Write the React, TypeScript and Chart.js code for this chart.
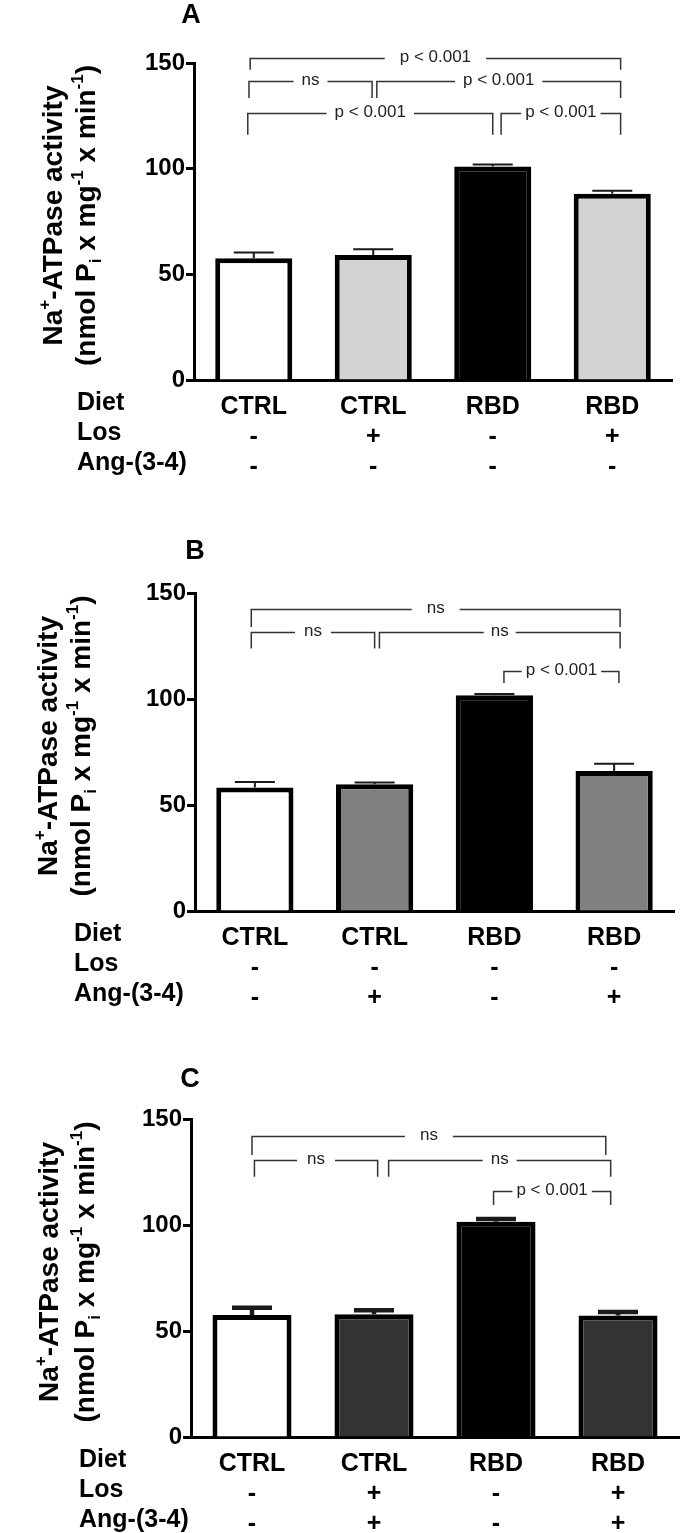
import React, { useEffect, useRef } from "react";
import { Chart, registerables } from "chart.js";

Chart.register(...registerables);

// ---------- data ----------
const diet = ["CTRL", "CTRL", "RBD", "RBD"];
const losA = ["-", "+", "-", "+"];
const angA = ["-", "-", "-", "-"];
const losB = ["-", "-", "-", "-"];
const angB = ["-", "+", "-", "+"];
const losC = ["-", "+", "-", "+"];
const angC = ["-", "+", "-", "+"];
const rowHeaders = ["Diet", "Los", "Ang-(3-4)"];

const meanA = [57.6, 59.2, 101.0, 88.1];
const semA = [2.7, 2.7, 1.0, 1.4];
const meanB = [58.2, 59.8, 101.8, 66.0];
const semB = [2.7, 0.8, 0.6, 3.5];
const meanC = [57.5, 57.9, 101.5, 57.3];
const semC = [3.5, 1.9, 1.3, 1.7];

const fillA = ["#ffffff", "#d3d3d3", "#000000", "#d3d3d3"];
const fillB = ["#ffffff", "#808080", "#000000", "#808080"];
const fillC = ["#ffffff", "#333333", "#000000", "#333333"];

const yMin = 0;
const yMax = 150;
const yStep = 50;

// significance brackets: category positions (from/to), bracket level and drop level (y units)
type Bracket = { from: number; to: number; y: number; drop: number; label: string; gap: number };
const bracketsA: Bracket[] = [
  { from: -0.03, to: 3.07, y: 152.4, drop: 146.8, label: "p < 0.001", gap: 15 },
  { from: -0.04, to: 0.99, y: 141.6, drop: 133.4, label: "ns", gap: 8 },
  { from: 1.03, to: 3.07, y: 141.6, drop: 133.4, label: "p < 0.001", gap: 8 },
  { from: -0.05, to: 2.0, y: 126.4, drop: 116.0, label: "p < 0.001", gap: 8 },
  { from: 2.07, to: 3.07, y: 126.4, drop: 116.0, label: "p < 0.001", gap: 4 },
];
const bracketsB: Bracket[] = [
  { from: -0.03, to: 3.05, y: 142.6, drop: 134.0, label: "ns", gap: 15 },
  { from: -0.03, to: 1.0, y: 131.6, drop: 123.8, label: "ns", gap: 9 },
  { from: 1.04, to: 3.05, y: 131.6, drop: 123.8, label: "ns", gap: 7 },
  { from: 2.08, to: 3.04, y: 113.2, drop: 107.5, label: "p < 0.001", gap: 4 },
];
const bracketsC: Bracket[] = [
  { from: 0.0, to: 2.9, y: 142.0, drop: 133.0, label: "ns", gap: 15 },
  { from: 0.02, to: 1.03, y: 130.6, drop: 122.8, label: "ns", gap: 10 },
  { from: 1.12, to: 2.94, y: 130.6, drop: 122.8, label: "ns", gap: 8 },
  { from: 1.98, to: 2.94, y: 116.2, drop: 109.4, label: "p < 0.001", gap: 4 },
];

const titleLine1 = [{ t: "Na" }, { t: "+", sup: true }, { t: "-ATPase activity" }];
const titleLine2 = [
  { t: "(nmol P" },
  { t: "i", sub: true },
  { t: " x mg" },
  { t: "-1", sup: true },
  { t: " x min" },
  { t: "-1", sup: true },
  { t: ")" },
];

// ---------- drawing ----------
const FONT = '"Liberation Sans", Arial, Helvetica, sans-serif';
const W = 700;

type Seg = { t: string; sup?: boolean; sub?: boolean };

function drawRich(ctx: CanvasRenderingContext2D, segs: Seg[], cx: number, cy: number, size: number) {
  const fontFor = (s: Seg) => `bold ${s.sup || s.sub ? Math.round(size * 0.62) : size}px ${FONT}`;
  let total = 0;
  segs.forEach((s) => {
    ctx.font = fontFor(s);
    total += ctx.measureText(s.t).width;
  });
  ctx.save();
  ctx.translate(cx, cy);
  ctx.rotate(-Math.PI / 2);
  ctx.textAlign = "left";
  ctx.textBaseline = "alphabetic";
  ctx.fillStyle = "#000";
  let x = -total / 2;
  const base = size * 0.36;
  segs.forEach((s) => {
    ctx.font = fontFor(s);
    const dy = s.sup ? -size * 0.44 : s.sub ? size * 0.2 : 0;
    ctx.fillText(s.t, x, base + dy);
    x += ctx.measureText(s.t).width;
  });
  ctx.restore();
}

type PanelProps = {
  top: number;
  height: number;
  letter: string;
  letterX: number;
  letterY: number;
  area: { left: number; right: number; top: number; bottom: number };
  los: string[];
  ang: string[];
  means: number[];
  sems: number[];
  fills: string[];
  brackets: Bracket[];
  headerX: number;
  titleX: [number, number];
  errWidth: number;
  barPct: number;
};

function Panel(p: PanelProps) {
  const ref = useRef<HTMLCanvasElement | null>(null);
  useEffect(() => {
    if (!ref.current) return;
    const labels = diet.map((d, i) => [d, p.los[i], p.ang[i]]);
    const tickPad = 4;
    const lineH = 30;
    const overlay = {
      id: "overlay" + p.letter,
      afterDraw(chart: any) {
        const ctx: CanvasRenderingContext2D = chart.ctx;
        const xs = chart.scales.x;
        const ys = chart.scales.y;
        ctx.save();
        // error bars
        ctx.strokeStyle = "#1a1a1a";
        ctx.lineWidth = p.errWidth;
        p.means.forEach((m, i) => {
          const x = xs.getPixelForValue(i);
          const y0 = ys.getPixelForValue(m);
          const y1 = ys.getPixelForValue(m + p.sems[i]);
          ctx.beginPath();
          ctx.moveTo(x, y0);
          ctx.lineTo(x, y1);
          ctx.moveTo(x - 20, y1);
          ctx.lineTo(x + 20, y1);
          ctx.stroke();
        });
        // brackets
        ctx.font = `17px ${FONT}`;
        ctx.textAlign = "center";
        ctx.textBaseline = "middle";
        p.brackets.forEach((b) => {
          const x1 = xs.getPixelForValue(b.from);
          const x2 = xs.getPixelForValue(b.to);
          const yT = Math.round(ys.getPixelForValue(b.y)) + 0.5;
          const yD = ys.getPixelForValue(b.drop);
          const cx = (x1 + x2) / 2;
          const tw = ctx.measureText(b.label).width;
          ctx.strokeStyle = "#333";
          ctx.lineWidth = 1.5;
          ctx.beginPath();
          ctx.moveTo(x1, yD);
          ctx.lineTo(x1, yT);
          ctx.lineTo(cx - tw / 2 - b.gap, yT);
          ctx.moveTo(cx + tw / 2 + b.gap, yT);
          ctx.lineTo(x2, yT);
          ctx.lineTo(x2, yD);
          ctx.stroke();
          ctx.fillStyle = "#222";
          ctx.fillText(b.label, cx, yT - 1);
        });
        // row headers
        ctx.font = `bold 25px ${FONT}`;
        ctx.textAlign = "left";
        ctx.textBaseline = "middle";
        ctx.fillStyle = "#000";
        rowHeaders.forEach((h, i) => {
          const y = xs.top + tickPad + lineH * (i + 0.5) + 4;
          ctx.fillText(h, p.headerX, y);
        });
        // panel letter
        ctx.font = `bold 27px ${FONT}`;
        ctx.textAlign = "center";
        ctx.fillText(p.letter, p.letterX, p.letterY);
        // y title
        const cy = (chart.chartArea.top + chart.chartArea.bottom) / 2 - 6;
        drawRich(ctx, titleLine1, p.titleX[0], cy, 28);
        drawRich(ctx, titleLine2, p.titleX[1], cy, 28);
        ctx.restore();
      },
    };
    const chart = new Chart(ref.current, {
      type: "bar",
      data: {
        labels,
        datasets: [
          {
            data: p.means,
            backgroundColor: p.fills,
            borderColor: "#000",
            borderWidth: 5,
            barPercentage: p.barPct,
            categoryPercentage: 1,
          },
        ],
      },
      options: {
        responsive: false,
        animation: false,
        devicePixelRatio: 1,
        layout: { padding: { left: 0, top: p.area.top, right: W - p.area.right, bottom: 0 } },
        plugins: { legend: { display: false }, tooltip: { enabled: false }, title: { display: false } },
        scales: {
          x: {
            type: "category",
            offset: true,
            grid: { display: false },
            border: { display: true, color: "#000", width: 3 },
            ticks: {
              color: "#000",
              font: { family: FONT, size: 25, weight: "bold", lineHeight: lineH / 25 },
              padding: tickPad,
              maxRotation: 0,
              autoSkip: false,
            },
            afterFit: (s: any) => {
              s.height = p.height - p.area.bottom;
            },
          },
          y: {
            min: yMin,
            max: yMax,
            ticks: {
              stepSize: yStep,
              color: "#000",
              font: { family: FONT, size: 24, weight: "bold" },
              padding: 1,
            },
            grid: {
              display: true,
              drawOnChartArea: false,
              drawTicks: true,
              tickLength: 8,
              tickWidth: 3,
              tickColor: "#000",
            },
            border: { display: true, color: "#000", width: 3 },
            afterFit: (s: any) => {
              s.width = p.area.left;
            },
          },
        },
      } as any,
      plugins: [overlay],
    });
    return () => chart.destroy();
  }, []);
  return (
    <div style={{ position: "absolute", left: 0, top: p.top, width: W, height: p.height }}>
      <canvas ref={ref} width={W} height={p.height} style={{ display: "block" }} />
    </div>
  );
}

export default function App() {
  return (
    <div style={{ position: "absolute", left: 0, top: 0, width: W, height: 1533, background: "#fff" }}>
      <Panel
        top={0}
        height={500}
        letter="A"
        letterX={191}
        letterY={16}
        area={{ left: 194, right: 672, top: 63, bottom: 380 }}
        los={losA}
        ang={angA}
        means={meanA}
        sems={semA}
        fills={fillA}
        brackets={bracketsA}
        headerX={77}
        titleX={[52, 85]}
        errWidth={2}
        barPct={0.645}
      />
      <Panel
        top={500}
        height={520}
        letter="B"
        letterX={195}
        letterY={52}
        area={{ left: 195, right: 674, top: 93, bottom: 411 }}
        los={losB}
        ang={angB}
        means={meanB}
        sems={semB}
        fills={fillB}
        brackets={bracketsB}
        headerX={74}
        titleX={[47, 80]}
        errWidth={2}
        barPct={0.645}
      />
      <Panel
        top={1020}
        height={513}
        letter="C"
        letterX={190}
        letterY={60}
        area={{ left: 191, right: 679, top: 99, bottom: 417 }}
        los={losC}
        ang={angC}
        means={meanC}
        sems={semC}
        fills={fillC}
        brackets={bracketsC}
        headerX={79}
        titleX={[48, 84]}
        errWidth={4.5}
        barPct={0.648}
      />
    </div>
  );
}
